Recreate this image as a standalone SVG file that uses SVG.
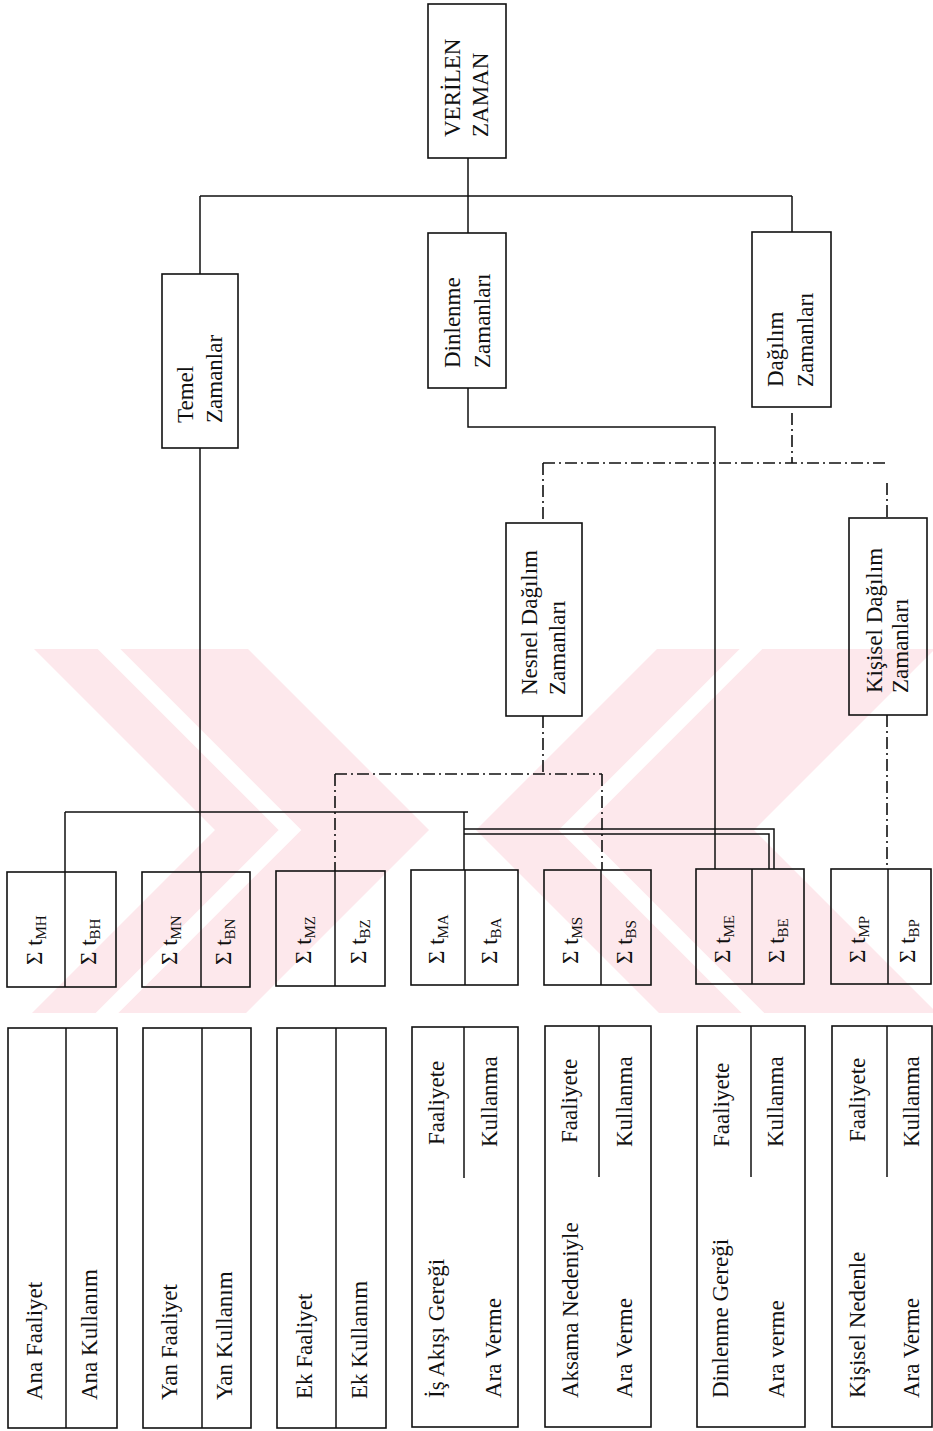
<svg xmlns="http://www.w3.org/2000/svg" width="933" height="1431" viewBox="0 0 933 1431">
<style>
.box{fill:none;stroke:#111;stroke-width:1.6}
.ln{fill:none;stroke:#111;stroke-width:1.5}
.dd{fill:none;stroke:#111;stroke-width:1.6;stroke-dasharray:12 4 2 4}
text{font-family:"Liberation Serif","Times New Roman",serif;font-size:23px;fill:#111}
.sub{font-size:15px}
.wm{fill:#fde8ec}
.ws{fill:none;stroke:#fff;stroke-width:16}
</style>
<defs><clipPath id="wmclip"><rect x="0" y="649" width="933" height="364"/></clipPath></defs>
<g id="watermark" clip-path="url(#wmclip)">
<polygon class="wm" points="-15,600 199,600 429,830 199,1060 -15,1060 215,830"/>
<polygon class="wm" points="706,600 984,600 754,830 984,1060 706,1060 476,830"/>
<polyline class="ws" points="60,600 290,830 60,1060"/>
<polyline class="ws" points="800,600 570,830 800,1060"/>
</g>
<g id="connectors">
<path class="ln" d="M468,158V233M200,196H792M200,196V274M792,196V232"/>
<path class="ln" d="M468,388V427H715V869"/>
<path class="ln" d="M200,448V872"/>
<path class="ln" d="M65,812H468M65,812V872M464,812V870"/>
<path class="ln" d="M464,829H774V869M464,834H769V869"/>
<path class="dd" d="M792,413V463M543,463H887M887,483V518M543,463V523"/>
<path class="dd" d="M543,716V774M335,774H602M335,774V871M602,774V870"/>
<path class="dd" d="M887,715V869"/>
</g>
<g id="verilen-zaman">
<rect class="box" x="428" y="4" width="78" height="154"/>
<text transform="translate(460,137) rotate(-90)">VERİLEN</text>
<text transform="translate(488,137) rotate(-90)">ZAMAN</text>
</g>
<g id="temel-zamanlar">
<rect class="box" x="162" y="274" width="76" height="174"/>
<text transform="translate(193,423) rotate(-90)">Temel</text>
<text transform="translate(222,423) rotate(-90)">Zamanlar</text>
</g>
<g id="dinlenme-zamanlari">
<rect class="box" x="428" y="233" width="78" height="155"/>
<text transform="translate(460,368) rotate(-90)">Dinlenme</text>
<text transform="translate(490,368) rotate(-90)">Zamanları</text>
</g>
<g id="dagilim-zamanlari">
<rect class="box" x="752" y="232" width="79" height="175"/>
<text transform="translate(783,387) rotate(-90)">Dağılım</text>
<text transform="translate(813,387) rotate(-90)">Zamanları</text>
</g>
<g id="nesnel-dagilim">
<rect class="box" x="506" y="523" width="76" height="193"/>
<text transform="translate(537,695) rotate(-90)">Nesnel Dağılım</text>
<text transform="translate(565,695) rotate(-90)">Zamanları</text>
</g>
<g id="kisisel-dagilim">
<rect class="box" x="849" y="518" width="78" height="197"/>
<text transform="translate(882,693) rotate(-90)">Kişisel Dağılım</text>
<text transform="translate(908,693) rotate(-90)">Zamanları</text>
</g>
<g id="sum-h">
<rect class="box" x="7" y="872" width="109" height="115"/><path class="ln" d="M65,872V987"/>
<text transform="translate(42,965) rotate(-90)">Σ t<tspan class="sub" dy="4">MH</tspan></text>
<text transform="translate(96,965) rotate(-90)">Σ t<tspan class="sub" dy="4">BH</tspan></text>
</g>
<g id="sum-n">
<rect class="box" x="142" y="872" width="108" height="115"/><path class="ln" d="M201,872V987"/>
<text transform="translate(177,965) rotate(-90)">Σ t<tspan class="sub" dy="4">MN</tspan></text>
<text transform="translate(231,965) rotate(-90)">Σ t<tspan class="sub" dy="4">BN</tspan></text>
</g>
<g id="sum-z">
<rect class="box" x="276" y="871" width="109" height="115"/><path class="ln" d="M335,871V986"/>
<text transform="translate(311,964) rotate(-90)">Σ t<tspan class="sub" dy="4">MZ</tspan></text>
<text transform="translate(366,964) rotate(-90)">Σ t<tspan class="sub" dy="4">BZ</tspan></text>
</g>
<g id="sum-a">
<rect class="box" x="411" y="870" width="107" height="115"/><path class="ln" d="M465,870V985"/>
<text transform="translate(444,964) rotate(-90)">Σ t<tspan class="sub" dy="4">MA</tspan></text>
<text transform="translate(497,964) rotate(-90)">Σ t<tspan class="sub" dy="4">BA</tspan></text>
</g>
<g id="sum-s">
<rect class="box" x="544" y="870" width="107" height="115"/><path class="ln" d="M601,870V985"/>
<text transform="translate(578,964) rotate(-90)">Σ t<tspan class="sub" dy="4">MS</tspan></text>
<text transform="translate(632,964) rotate(-90)">Σ t<tspan class="sub" dy="4">BS</tspan></text>
</g>
<g id="sum-e">
<rect class="box" x="696" y="869" width="108" height="115"/><path class="ln" d="M752,869V984"/>
<text transform="translate(730,963) rotate(-90)">Σ t<tspan class="sub" dy="4">ME</tspan></text>
<text transform="translate(784,963) rotate(-90)">Σ t<tspan class="sub" dy="4">BE</tspan></text>
</g>
<g id="sum-p">
<rect class="box" x="831" y="869" width="100" height="115"/><path class="ln" d="M888,869V984"/>
<text transform="translate(865,963) rotate(-90)">Σ t<tspan class="sub" dy="4">MP</tspan></text>
<text transform="translate(915,963) rotate(-90)">Σ t<tspan class="sub" dy="4">BP</tspan></text>
</g>
<g id="ana">
<rect class="box" x="8" y="1028" width="109" height="400"/><path class="ln" d="M66,1028V1428"/>
<text transform="translate(42,1400) rotate(-90)">Ana Faaliyet</text>
<text transform="translate(97,1400) rotate(-90)">Ana Kullanım</text>
</g>
<g id="yan">
<rect class="box" x="143" y="1028" width="108" height="400"/><path class="ln" d="M202,1028V1428"/>
<text transform="translate(177,1400) rotate(-90)">Yan Faaliyet</text>
<text transform="translate(232,1400) rotate(-90)">Yan Kullanım</text>
</g>
<g id="ek">
<rect class="box" x="277" y="1028" width="109" height="400"/><path class="ln" d="M336,1028V1428"/>
<text transform="translate(312,1399) rotate(-90)">Ek Faaliyet</text>
<text transform="translate(367,1399) rotate(-90)">Ek Kullanım</text>
</g>
<g id="is-akisi">
<rect class="box" x="412" y="1027" width="106" height="400"/><path class="ln" d="M464,1027V1178"/>
<text transform="translate(444,1145) rotate(-90)">Faaliyete</text>
<text transform="translate(497,1147) rotate(-90)">Kullanma</text>
<text transform="translate(444,1398) rotate(-90)">İş Akışı Gereği</text>
<text transform="translate(501,1398) rotate(-90)">Ara Verme</text>
</g>
<g id="aksama">
<rect class="box" x="545" y="1026" width="106" height="401"/><path class="ln" d="M599,1026V1177"/>
<text transform="translate(577,1143) rotate(-90)">Faaliyete</text>
<text transform="translate(632,1147) rotate(-90)">Kullanma</text>
<text transform="translate(578,1398) rotate(-90)">Aksama Nedeniyle</text>
<text transform="translate(632,1398) rotate(-90)">Ara Verme</text>
</g>
<g id="dinlenme-geregi">
<rect class="box" x="697" y="1026" width="108" height="401"/><path class="ln" d="M751,1026V1177"/>
<text transform="translate(729,1147) rotate(-90)">Faaliyete</text>
<text transform="translate(783,1147) rotate(-90)">Kullanma</text>
<text transform="translate(728,1398) rotate(-90)">Dinlenme Gereği</text>
<text transform="translate(784,1398) rotate(-90)">Ara verme</text>
</g>
<g id="kisisel-neden">
<rect class="box" x="832" y="1026" width="100" height="401"/><path class="ln" d="M887,1026V1177"/>
<text transform="translate(865,1142) rotate(-90)">Faaliyete</text>
<text transform="translate(919,1147) rotate(-90)">Kullanma</text>
<text transform="translate(865,1398) rotate(-90)">Kişisel Nedenle</text>
<text transform="translate(919,1398) rotate(-90)">Ara Verme</text>
</g>
</svg>
